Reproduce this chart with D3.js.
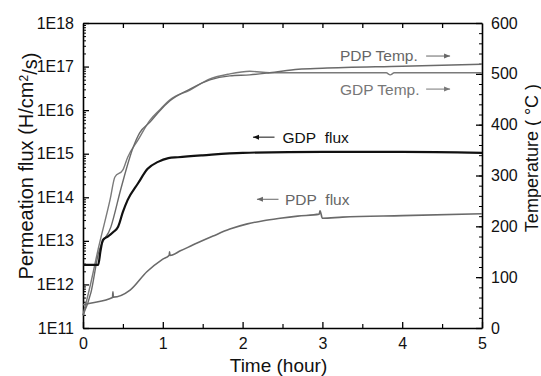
<!DOCTYPE html>
<html><head><meta charset="utf-8">
<script src="https://cdn.jsdelivr.net/npm/d3@7"></script>
<style>
body{margin:0;background:#fff;}
svg{display:block;font-family:"Liberation Sans",Arial,sans-serif;}
</style></head>
<body><svg id="c" width="541" height="376"></svg>
<script>
// ---- data ----
const xTicks = [0,1,2,3,4,5];
const fluxTicks = [1e11,1e12,1e13,1e14,1e15,1e16,1e17,1e18];
const fluxTickLabels = ["1E11","1E12","1E13","1E14","1E15","1E16","1E17","1E18"];
const tempTicks = [0,100,200,300,400,500,600];

const gdpFluxT = [0,0.1,0.19,0.22,0.25,0.31,0.38,0.44,0.5,0.56,0.69,0.81,0.94,1.07,1.19,1.5,2.0,3.0,4.0,5.0];
const gdpFluxV = [2.8e12,2.8e12,2.8e12,6e12,1.05e13,1.25e13,1.6e13,2.1e13,4.6e13,8.7e13,2.1e14,4.5e14,6.5e14,7.9e14,8.3e14,9.2e14,1.05e15,1.1e15,1.1e15,1.05e15];

const pdpFluxT = [0,0.09,0.37,0.375,0.38,0.59,0.80,1.00,1.08,1.085,1.09,1.22,1.43,1.63,1.84,2.06,2.26,2.47,2.69,2.96,2.97,3.0,3.25,4.0,5.0];
const pdpFluxV = [3.4e11,3.7e11,5.0e11,6.8e11,5.1e11,7.4e11,1.95e12,3.8e12,4.7e12,5.6e12,4.6e12,5.9e12,8.9e12,1.29e13,1.86e13,2.45e13,2.9e13,3.3e13,3.7e13,4.1e13,4.9e13,3.3e13,3.5e13,3.8e13,4.2e13];

const gdpTempT = [0,0.1,0.19,0.34,0.4,0.5,0.56,0.69,0.84,0.96,1.09,1.34,1.59,1.84,2.09,2.34,3.0,3.8,3.85,3.9,4.0,5.0];
const gdpTempV = [25,90,155,253,297,311,336,370,409,429,449,468,490,500,505,502,502,502,498,502,502,502];

const pdpTempT = [0,0.1,0.19,0.35,0.48,0.63,0.71,0.84,0.96,1.09,1.34,1.59,1.84,2.09,2.34,2.7,3.0,4.0,5.0];
const pdpTempV = [25,70,145,199,277,356,384,405,427,447,470,488,496,498,502,509,511,515,519];

// ---- layout ----
const svg = d3.select("#c");
const L=83, R=482, T=23, B=328;
const x = d3.scaleLinear().domain([0,5]).range([L,R]);
const yF = d3.scaleLog().domain([1e11,1e18]).range([B,T]);
const yT = d3.scaleLinear().domain([0,600]).range([B,T]);

const fmt = d => fluxTickLabels[fluxTicks.indexOf(d)] || "";
const minorFlux = [];
for (let e=11;e<18;e++) for (let m=2;m<10;m++) minorFlux.push(m*Math.pow(10,e));

function styleAxis(g){ g.selectAll("path").attr("stroke","#000").attr("stroke-width",1.6);
  g.selectAll("line").attr("stroke","#000").attr("stroke-width",1.3);
  g.selectAll("text").attr("fill","#111").style("font-size","16px"); }

// left
svg.append("g").attr("transform",`translate(${L},0)`)
  .call(d3.axisRight(yF).tickValues(minorFlux).tickSize(3).tickFormat("").tickSizeOuter(0))
  .call(g=>{g.select("path").remove(); g.selectAll("line").attr("stroke","#000").attr("stroke-width",1);});
svg.append("g").attr("transform",`translate(${L},0)`)
  .call(d3.axisLeft(yF).tickValues(fluxTicks).tickSizeInner(-6).tickSizeOuter(0).tickPadding(9).tickFormat(fmt))
  .call(styleAxis);
// right
svg.append("g").attr("transform",`translate(${R},0)`)
  .call(d3.axisLeft(yT).tickValues(d3.range(0,601,20)).tickSize(3).tickFormat("").tickSizeOuter(0))
  .call(g=>{g.select("path").remove(); g.selectAll("line").attr("stroke","#000").attr("stroke-width",1);});
svg.append("g").attr("transform",`translate(${R},0)`)
  .call(d3.axisRight(yT).tickValues(tempTicks).tickSizeInner(-6).tickSizeOuter(0).tickPadding(9))
  .call(styleAxis);
// bottom
svg.append("g").attr("transform",`translate(0,${B})`)
  .call(d3.axisBottom(x).tickValues(d3.range(0.5,5,1)).tickSize(-4).tickFormat("").tickSizeOuter(0))
  .call(g=>{g.select("path").remove(); g.selectAll("line").attr("stroke","#000").attr("stroke-width",1.2);});
svg.append("g").attr("transform",`translate(0,${B})`)
  .call(d3.axisBottom(x).tickValues(xTicks).tickSizeInner(-6).tickSizeOuter(0).tickPadding(10).tickFormat(d3.format("d")))
  .call(styleAxis);
// top
svg.append("g").attr("transform",`translate(0,${T})`)
  .call(d3.axisTop(x).tickValues(d3.range(0.5,5,0.5)).tickSize(-5).tickFormat("").tickSizeOuter(0))
  .call(styleAxis);

// lines
const line = d3.line().curve(d3.curveMonotoneX);
function draw(ts, vs, ys, color, w){
  svg.append("path").datum(ts.map((t,i)=>[x(t), ys(vs[i])]))
    .attr("d", line).attr("fill","none").attr("stroke",color).attr("stroke-width",w).attr("stroke-linejoin","round");
}
draw(gdpTempT, gdpTempV, yT, "#7a7a7a", 1.4);
draw(pdpTempT, pdpTempV, yT, "#6a6a6a", 1.4);
draw(pdpFluxT, pdpFluxV, yF, "#6a6a6a", 1.6);
draw(gdpFluxT, gdpFluxV, yF, "#111", 2.2);

// annotations
function arrow(x1,y,x2,color){
  svg.append("line").attr("x1",x1).attr("x2",x2).attr("y1",y).attr("y2",y).attr("stroke",color).attr("stroke-width",1);
  const dir = Math.sign(x2-x1);
  svg.append("path").attr("d",`M${x2},${y}L${x2-dir*6},${y-2.5}L${x2-dir*6},${y+2.5}Z`).attr("fill",color);
}
function label(tx,ty,txt,color){
  svg.append("text").attr("x",tx).attr("y",ty).attr("fill",color).style("font-size","15.5px").attr("dy","0.35em").text(txt);
}
label(x(3.22), yT(535), "PDP Temp.", "#666"); arrow(x(4.3), yT(535), x(4.6), "#666");
label(x(3.22), yT(470), "GDP Temp.", "#777"); arrow(x(4.3), yT(470), x(4.6), "#777");
label(x(2.5), yF(2.4e15), "GDP\u00a0\u00a0flux", "#111"); arrow(x(2.4), yF(2.4e15), x(2.13), "#111");
label(x(2.53), yF(9e13), "PDP\u00a0\u00a0flux", "#666"); arrow(x(2.45), yF(9e13), x(2.18), "#666");

// axis titles
svg.append("text").attr("x",(L+R)/2-4).attr("y",372).attr("text-anchor","middle").style("font-size","19px").attr("fill","#111").text("Time (hour)");
const yl = svg.append("text").attr("transform",`translate(33,166) rotate(-90)`).attr("text-anchor","middle").style("font-size","20px").attr("fill","#111");
yl.append("tspan").text("Permeation flux (H/cm");
yl.append("tspan").attr("dy","-0.45em").style("font-size","12px").text("2");
yl.append("tspan").attr("dy","0.45em").text("/s)");
svg.append("text").attr("transform",`translate(538,158) rotate(-90)`).attr("text-anchor","middle").style("font-size","18px").attr("fill","#111").style("white-space","pre").text("Temperature ( \u00b0C )");
</script></body></html>
